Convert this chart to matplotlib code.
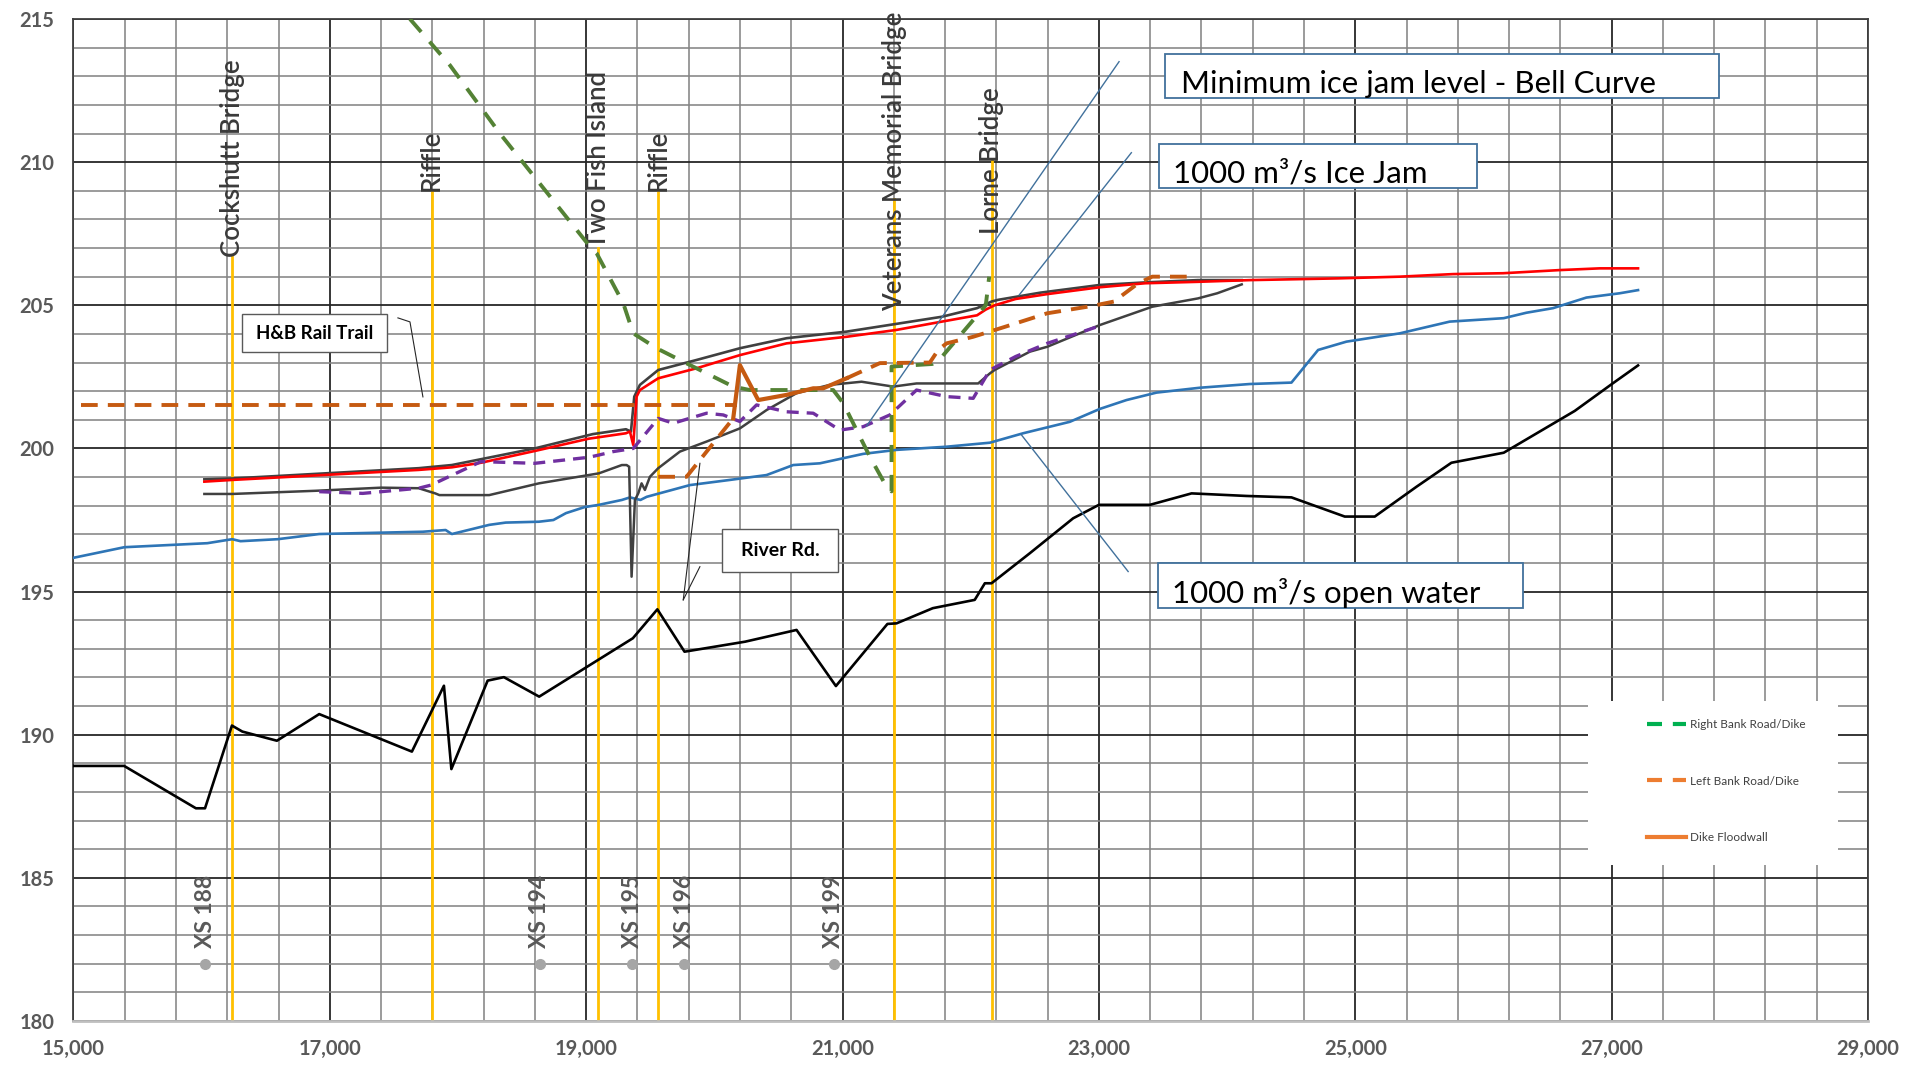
import matplotlib.pyplot as plt
import numpy as np
from matplotlib.lines import Line2D
from matplotlib.patches import Rectangle
from matplotlib.ticker import FuncFormatter

plt.rcParams['font.family'] = ['Lato', 'DejaVu Sans']

# ---- data (chainage, elevation) ----
bed_x = [15000, 15395, 15955, 16026, 16236, 16317, 16587, 16917, 17640, 17890, 17948,
         18231, 18358, 18633, 19364, 19555, 19767, 20240, 20641, 20948, 21350, 21421,
         21704, 22031, 22110, 22162, 22461, 22799, 23000, 23398, 23723, 24151, 24502,
         24918, 25152, 25477, 25750, 26158, 26712, 27011, 27206]
bed_y = [188.91, 188.91, 187.43, 187.43, 190.32, 190.11, 189.79, 190.72, 189.41, 191.71, 188.80,
         191.89, 192.01, 191.33, 193.37, 194.38, 192.90, 193.25, 193.66, 191.70, 193.87, 193.89,
         194.42, 194.71, 195.29, 195.29, 196.34, 197.56, 198.03, 198.03, 198.43, 198.34, 198.29,
         197.62, 197.62, 198.66, 199.50, 199.85, 201.31, 202.28, 202.90]

open_x = [15000, 15397, 16044, 16238, 16303, 16594, 16917, 17725, 17903, 17952, 18243,
          18372, 18631, 18744, 18842, 18987, 19099, 19278, 19342, 19423, 19472, 19809,
          20121, 20407, 20615, 20823, 21161, 21421, 21811, 22149, 22409, 22773, 23007,
          23215, 23449, 23787, 24177, 24502, 24710, 24931, 25347, 25737, 26158, 26335,
          26543, 26803, 27063, 27206]
open_y = [196.18, 196.55, 196.69, 196.83, 196.76, 196.83, 197.01, 197.09, 197.15, 197.01, 197.33,
          197.41, 197.44, 197.50, 197.74, 197.95, 198.03, 198.20, 198.29, 198.20, 198.31, 198.72,
          198.90, 199.07, 199.42, 199.48, 199.81, 199.95, 200.06, 200.20, 200.53, 200.93, 201.38,
          201.69, 201.95, 202.12, 202.25, 202.30, 203.44, 203.73, 204.02, 204.43, 204.55, 204.74,
          204.90, 205.27, 205.42, 205.53]

jam_x = [16021, 16238, 17693, 17952, 18179, 18598, 19019, 19310, 19341, 19367, 19393,
         19419, 19562, 19861, 20199, 20563, 21031, 21421, 21775, 22049, 22117, 22186,
         22350, 22596, 23007, 23362, 23772, 24183, 24867, 25347, 25763, 26153, 26595,
         26907, 27206]
jam_y = [198.84, 198.90, 199.25, 199.34, 199.50, 199.91, 200.34, 200.53, 200.59, 200.12, 201.81,
         202.04, 202.45, 202.80, 203.26, 203.67, 203.90, 204.14, 204.43, 204.65, 204.85, 205.00,
         205.22, 205.39, 205.63, 205.77, 205.82, 205.88, 205.94, 206.00, 206.09, 206.12, 206.23,
         206.29, 206.29]

upper_x = [16021, 16238, 17693, 17952, 18598, 19051, 19310, 19349, 19375, 19419, 19562,
           19861, 20199, 20563, 21031, 21447, 21775, 22049, 22162, 22213, 22541, 23007,
           23362, 23772, 24114]
upper_y = [198.92, 198.95, 199.31, 199.42, 200.00, 200.50, 200.67, 200.59, 201.81, 202.22, 202.74,
           203.09, 203.50, 203.85, 204.08, 204.37, 204.60, 204.90, 205.13, 205.19, 205.44, 205.71,
           205.80, 205.88, 205.88]

lower_x = [16021, 16238, 16885, 17402, 17693, 17822, 17855, 18243, 18631, 19019, 19099,
           19278, 19315, 19335, 19354, 19380, 19406, 19432, 19458, 19497, 19562, 19731,
           19939, 20199, 20407, 20641, 20901, 21148, 21395, 21577, 22058, 22149, 22186,
           22461, 22596, 23007, 23416, 23772, 23923, 24114]
lower_y = [198.41, 198.41, 198.52, 198.63, 198.61, 198.43, 198.37, 198.37, 198.78, 199.07, 199.13,
           199.42, 199.42, 199.36, 195.52, 198.20, 198.43, 198.78, 198.55, 199.01, 199.31, 199.89,
           200.24, 200.70, 201.34, 201.93, 202.22, 202.33, 202.16, 202.27, 202.27, 202.62, 202.74,
           203.38, 203.55, 204.31, 204.95, 205.24, 205.42, 205.73]

bell_x = [16917, 17257, 17693, 17790, 17984, 18179, 18598, 19019, 19099, 19211, 19367,
          19562, 19679, 19939, 20069, 20199, 20329, 20563, 20771, 20979, 21161, 21369,
          21577, 21811, 22019, 22149, 22350, 22596, 23007]
bell_y = [198.49, 198.43, 198.61, 198.72, 199.13, 199.54, 199.48, 199.69, 199.77, 199.89, 200.00,
          201.05, 200.88, 201.23, 201.17, 200.94, 201.52, 201.28, 201.23, 200.64, 200.76, 201.17,
          202.04, 201.81, 201.75, 202.74, 203.21, 203.67, 204.28]

right_x = [17625, 17936, 18327, 19029, 19081, 19289, 19367, 19549, 19757, 20147, 20277,
           20927, 21005, 21213, 21343, 21382, 21382, 21700, 21775, 22117, 22144]
right_y = [215.00, 213.39, 211.00, 207.05, 206.82, 205.07, 204.02, 203.50, 203.03, 202.16, 202.04,
           202.04, 201.58, 199.71, 198.66, 198.50, 202.86, 202.95, 203.20, 205.00, 206.00]

rail_x = [15057, 20173]
rail_y = [201.5, 201.5]
river_rd_x = [19562, 19783, 19991, 20147]
river_rd_y = [199.01, 199.01, 200.18, 201.05]
left_x = [21031, 21291, 21681, 21746, 21811, 22019, 22268, 22596, 22951, 23116, 23307,
          23416, 23731]
left_y = [202.45, 202.98, 203.00, 203.44, 203.67, 203.90, 204.25, 204.72, 204.98, 205.13, 205.77,
          206.00, 206.00]

wall_x = [20147, 20199, 20342, 20563, 20771, 20849, 21031]
wall_y = [201.05, 202.91, 201.69, 201.87, 202.10, 202.10, 202.45]

# landmarks (yellow verticals)
mark_x = [16240, 17793, 19093, 19560, 21405, 22163]
mark_names = ['Cockshutt Bridge', 'Riffle', 'Two Fish Island', 'Riffle',
              'Veterans Memorial Bridge', 'Lorne Bridge']
mark_top = [206.7, 209.0, 207.0, 209.0, 208.7, 210.1]
mark_label_y = [206.7, 209.0, 207.0, 209.0, 204.8, 207.5]

# cross sections
xs_x = [16026, 18637, 19358, 19764, 20933]
xs_names = ['XS 188', 'XS 194', 'XS 195', 'XS 196', 'XS 199']
xs_y = 182.0

# leader lines of the callouts
lead_bell = ([23157, 21187], [213.51, 200.78])
lead_jam = ([23253, 22378], [210.33, 205.36])
lead_open = ([22396, 23228], [200.47, 195.70])
lead_rail = ([17531, 17625, 17726], [204.56, 204.42, 201.80])
lead_river1 = ([19757, 19887], [194.71, 199.48])
lead_river2 = ([19757, 19887], [194.71, 195.87])

fig = plt.figure(figsize=(19.11, 10.74), dpi=100)
ax = fig.add_axes([0.03846, 0.04935, 0.93904, 0.93295])

ax.set_xlim(15000, 29000)
ax.set_ylim(180, 215)
ax.set_xticks(np.arange(15000, 29001, 2000))
ax.set_xticks(np.arange(15000, 29001, 400), minor=True)
ax.set_yticks(np.arange(180, 216, 5))
ax.set_yticks(np.arange(180, 216, 1), minor=True)
ax.xaxis.set_major_formatter(FuncFormatter(lambda v, p: f'{v:,.0f}'))
ax.grid(which='major', color='#262626', lw=1.3)
ax.grid(which='minor', color='#858585', lw=1.15)
ax.set_axisbelow(True)
ax.tick_params(which='both', length=0)
ax.tick_params(axis='y', pad=14)
ax.tick_params(axis='x', pad=13)
for lab in ax.get_xticklabels() + ax.get_yticklabels():
    lab.set_fontweight('bold')
    lab.set_fontsize(14.5)
    lab.set_color('#595959')
for side in ['top', 'right', 'left']:
    ax.spines[side].set_color('#404040')
    ax.spines[side].set_linewidth(1.3)
ax.spines['bottom'].set_color('#bfbfbf')
ax.spines['bottom'].set_linewidth(2)

# yellow landmark lines and labels
for x, name, top, ly in zip(mark_x, mark_names, mark_top, mark_label_y):
    ax.plot([x, x], [180, top], color='#FFC000', lw=2, zorder=2)
    ax.text(x, ly, name, rotation=90, ha='center', va='bottom', fontsize=18.5,
            fontweight='semibold', color='#3a3a3a', zorder=3)

# profiles
ax.plot(bed_x, bed_y, color='black', lw=1.9, zorder=4)
ax.plot(open_x, open_y, color='#2E75B6', lw=1.9, zorder=4)
ax.plot(lower_x, lower_y, color='#404040', lw=1.8, zorder=4)
ax.plot(upper_x, upper_y, color='#404040', lw=1.9, zorder=4)
ax.plot(jam_x, jam_y, color='#FF0000', lw=1.9, zorder=4)
ax.plot(bell_x, bell_y, color='#7030A0', lw=2.4, dashes=(3.6, 2.4), zorder=4)
ax.plot(right_x, right_y, color='#548235', lw=2.8, dashes=(4.4, 3.3), zorder=4)
for xs, ys in [(rail_x, rail_y), (river_rd_x, river_rd_y), (left_x, left_y)]:
    ax.plot(xs, ys, color='#C55A11', lw=2.8, dashes=(4.3, 2.6), zorder=4)
ax.plot(wall_x, wall_y, color='#C55A11', lw=3, zorder=4)

# cross section markers
ax.plot(xs_x, [xs_y] * len(xs_x), 'o', color='#A6A6A6', ms=7, zorder=4)
for x, name in zip(xs_x, xs_names):
    ax.text(x, xs_y + 0.55, name, rotation=90, ha='center', va='bottom', fontsize=16.5,
            fontweight='bold', color='#595959', zorder=4)

# leader lines
for lx, ly in [lead_bell, lead_jam, lead_open]:
    ax.plot(lx, ly, color='#41719C', lw=1, zorder=5)
for lx, ly in [lead_rail, lead_river1, lead_river2]:
    ax.plot(lx, ly, color='#262626', lw=0.8, zorder=5)


def box(x0, y0, x1, y1, edge, lw):
    ax.add_patch(Rectangle((x0, y0), x1 - x0, y1 - y0, transform=ax.transAxes,
                           facecolor='white', edgecolor=edge, lw=lw, zorder=7))


box(0.6081, 0.9215, 0.9170, 0.9648, '#41719C', 1.3)
ax.text(0.6170, 0.9261, 'Minimum ice jam level - Bell Curve', transform=ax.transAxes,
        fontsize=22.5, va='baseline', ha='left', zorder=8)
box(0.6048, 0.8310, 0.7823, 0.8752, '#41719C', 1.3)
ax.text(0.6127, 0.8366, '1000 m³/s Ice Jam', transform=ax.transAxes,
        fontsize=22.5, va='baseline', ha='left', zorder=8)
box(0.6045, 0.4119, 0.8076, 0.4568, '#41719C', 1.3)
ax.text(0.6120, 0.4175, '1000 m³/s open water', transform=ax.transAxes,
        fontsize=22.5, va='baseline', ha='left', zorder=8)

box(0.0941, 0.6674, 0.1745, 0.7053, '#595959', 1)
ax.text(0.1343, 0.6863, 'H&B Rail Trail', transform=ax.transAxes, fontsize=13.5,
        fontweight='bold', ha='center', va='center', zorder=8)
box(0.3612, 0.4478, 0.4262, 0.4907, '#595959', 1)
ax.text(0.3937, 0.4693, 'River Rd.', transform=ax.transAxes, fontsize=14,
        fontweight='bold', ha='center', va='center', zorder=8)

# legend
ax.add_patch(Rectangle((0.844, 0.1557), 0.1393, 0.1637, transform=ax.transAxes,
                       facecolor='white', edgecolor='none', zorder=7))
handles = [Line2D([], [], color='#00B050', lw=3, dashes=(3.6, 2.6)),
           Line2D([], [], color='#ED7D31', lw=3, dashes=(3.6, 2.6)),
           Line2D([], [], color='#ED7D31', lw=3)]
leg = ax.legend(handles, ['Right Bank Road/Dike', 'Left Bank Road/Dike', 'Dike Floodwall'],
                loc='center', bbox_to_anchor=(0.921, 0.2395), frameon=False,
                fontsize=8.5, labelspacing=3.85, handlelength=3.3, handletextpad=0.3,
                labelcolor='#404040')
leg.set_zorder(8)

plt.savefig('out.png', dpi=100)
